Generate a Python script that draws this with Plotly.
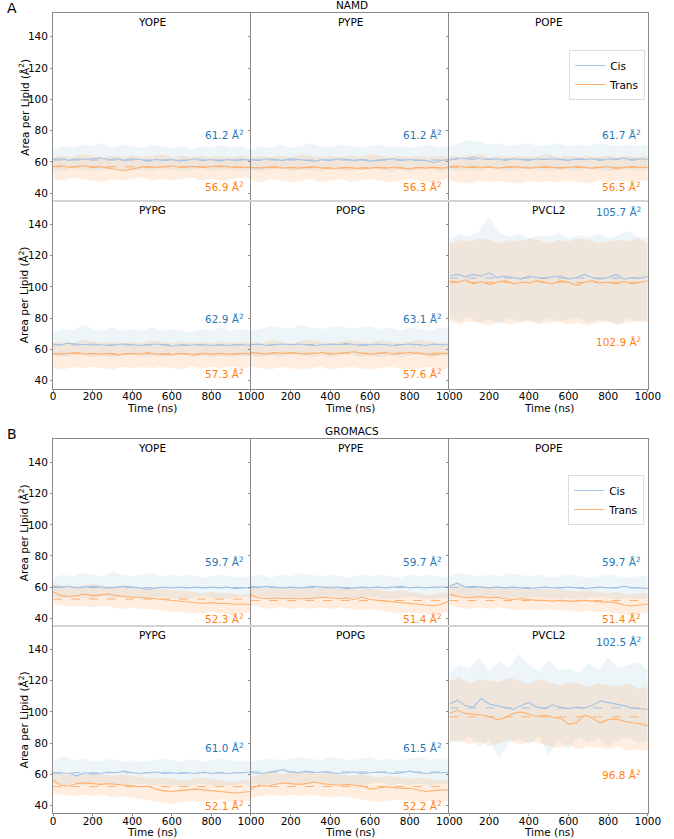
import plotly.graph_objects as go

# ---------------- data ----------------
T_SMOOTH = [0, 40, 80, 120, 160, 200, 240, 280, 320, 360, 400, 440, 480, 520, 560, 600,
            640, 680, 720, 760, 800, 840, 880, 920, 960, 1000]
T_RAW = [0, 50, 100, 150, 200, 250, 300, 350, 400, 450, 500, 550, 600, 650, 700, 750,
         800, 850, 900, 950, 1000]

LIPIDS = ["YOPE", "PYPE", "POPE", "PYPG", "POPG", "PVCL2"]
NAMD_CIS_MEAN = [61.2, 61.2, 61.7, 62.9, 63.1, 105.7]
NAMD_TRANS_MEAN = [56.9, 56.3, 56.5, 57.3, 57.6, 102.9]
GMX_CIS_MEAN = [59.7, 59.7, 59.7, 61.0, 61.5, 102.5]
GMX_TRANS_MEAN = [52.3, 51.4, 51.4, 52.1, 52.2, 96.8]

# ---- NAMD ----
NAMD_YOPE_CIS = [61.5, 62, 61, 62, 61.5, 62, 62.5, 61.5, 62, 61, 62, 61.5, 60.5, 61.5, 61, 61.5, 60.5, 61, 62, 61, 61.5, 60.5, 61.5, 61, 61.5, 61]
NAMD_YOPE_CIS_HI = [68, 70, 69, 71, 70, 72, 69, 71, 70, 69, 71, 70, 69, 70, 68, 70, 69, 71, 69, 70, 68]
NAMD_YOPE_CIS_LO = [55, 54, 56, 55, 54, 55, 56, 54, 55, 55, 54, 56, 55, 54, 55, 56, 54, 55, 55, 54, 55]
NAMD_YOPE_TRANS = [57, 57.5, 56.5, 57, 57.5, 56.5, 57, 56, 55, 54.5, 55.5, 56.5, 57, 56.5, 57, 57.5, 56.5, 57, 57, 56.5, 57, 57.5, 57, 56.5, 56.5, 56.5]
NAMD_YOPE_TRANS_HI = [63, 64, 63, 65, 64, 63, 64, 63, 64, 63, 64, 65, 63, 64, 63, 64, 63, 64, 63, 64, 63]
NAMD_YOPE_TRANS_LO = [49, 48, 50, 49, 48, 47, 49, 48, 49, 50, 48, 49, 48, 49, 50, 48, 49, 48, 49, 50, 49]

NAMD_PYPE_CIS = [61.5, 61, 62, 61.5, 61, 62, 61.5, 61, 60.5, 61.5, 61, 62, 61.5, 61, 61.5, 60.5, 61, 61.5, 62, 61, 61.5, 61, 61, 59.5, 61, 61.5]
NAMD_PYPE_CIS_HI = [68, 70, 69, 71, 69, 70, 72, 70, 69, 71, 70, 69, 70, 71, 69, 70, 69, 70, 71, 69, 70]
NAMD_PYPE_CIS_LO = [55, 54, 55, 56, 54, 55, 55, 54, 56, 55, 54, 55, 56, 55, 54, 55, 54, 55, 56, 54, 55]
NAMD_PYPE_TRANS = [56.5, 56, 56.5, 57, 56, 56.5, 56, 56.5, 57, 56, 55.5, 56, 56.5, 56, 55.5, 56, 56.5, 56, 56.5, 56, 55.5, 56.5, 56, 56.5, 56, 56.5]
NAMD_PYPE_TRANS_HI = [63, 64, 63, 64, 63, 65, 64, 63, 64, 63, 64, 63, 65, 64, 63, 64, 63, 64, 63, 64, 63]
NAMD_PYPE_TRANS_LO = [48, 47, 49, 48, 47, 48, 49, 47, 48, 49, 47, 48, 49, 48, 47, 48, 49, 48, 47, 48, 49]

NAMD_POPE_CIS = [61, 62.5, 62, 63, 62, 61.5, 62, 61, 62, 61.5, 61, 62, 61.5, 62, 61.5, 61, 62, 61.5, 62, 61, 62, 61.5, 62.5, 61, 62, 61.5]
NAMD_POPE_CIS_HI = [70, 72, 74, 73, 71, 72, 70, 71, 72, 70, 71, 72, 70, 71, 70, 72, 71, 70, 71, 70, 71]
NAMD_POPE_CIS_LO = [55, 54, 55, 54, 56, 55, 54, 55, 56, 55, 54, 55, 55, 54, 56, 55, 54, 55, 55, 54, 55]
NAMD_POPE_TRANS = [57, 57.5, 56.5, 57, 56.5, 57, 56, 56.5, 57, 56.5, 56, 56.5, 57, 56.5, 56, 56.5, 57, 56.5, 56, 56.5, 57, 55.5, 56.5, 57, 56.5, 56.5]
NAMD_POPE_TRANS_HI = [64, 63, 64, 65, 63, 64, 63, 64, 63, 64, 65, 63, 64, 63, 64, 63, 64, 63, 64, 63, 64]
NAMD_POPE_TRANS_LO = [48, 47, 46, 48, 47, 48, 47, 46, 48, 47, 48, 47, 48, 47, 46, 48, 47, 48, 47, 48, 48]

NAMD_PYPG_CIS = [63.5, 63, 64, 63.5, 63, 63.5, 63, 62.5, 63, 63.5, 63, 62.5, 63, 63.5, 63, 62, 63, 62.5, 63, 63, 62.5, 63, 62.5, 63, 63, 62.5]
NAMD_PYPG_CIS_HI = [71, 73, 72, 76, 73, 72, 74, 72, 73, 72, 74, 72, 73, 72, 71, 73, 72, 74, 72, 73, 72]
NAMD_PYPG_CIS_LO = [56, 55, 56, 57, 55, 56, 55, 56, 57, 55, 56, 55, 56, 57, 55, 56, 55, 56, 55, 56, 56]
NAMD_PYPG_TRANS = [57.5, 57, 57.5, 58, 57, 57.5, 57, 57.5, 56.5, 57, 57.5, 57, 58, 57, 57, 56.5, 57.5, 57, 56.5, 57.5, 57, 57.5, 57, 57, 57.5, 57]
NAMD_PYPG_TRANS_HI = [64, 65, 64, 66, 65, 64, 65, 64, 65, 64, 66, 65, 64, 65, 64, 65, 64, 65, 64, 65, 64]
NAMD_PYPG_TRANS_LO = [48, 47, 49, 48, 49, 48, 47, 49, 48, 49, 48, 49, 48, 47, 49, 48, 49, 48, 49, 48, 49]

NAMD_POPG_CIS = [63, 63.5, 62.5, 63, 63.5, 63, 63.5, 63, 62.5, 63, 63.5, 63, 64, 63, 62.5, 63, 63.5, 63, 62.5, 63, 63.5, 63, 62.5, 63.5, 63, 63]
NAMD_POPG_CIS_HI = [72, 73, 75, 74, 73, 76, 74, 73, 74, 75, 73, 74, 75, 73, 74, 72, 74, 73, 72, 74, 73]
NAMD_POPG_CIS_LO = [56, 55, 56, 55, 57, 56, 55, 56, 55, 56, 57, 55, 56, 55, 56, 55, 56, 57, 55, 56, 56]
NAMD_POPG_TRANS = [58, 57.5, 57, 58, 57.5, 58, 57.5, 57, 57.5, 58, 57, 57.5, 58, 58.5, 57.5, 57, 57.5, 58, 57, 57.5, 58, 57.5, 57, 56.5, 57.5, 57.5]
NAMD_POPG_TRANS_HI = [65, 64, 66, 65, 64, 65, 66, 65, 64, 65, 66, 65, 64, 66, 65, 64, 65, 66, 65, 64, 65]
NAMD_POPG_TRANS_LO = [49, 48, 47, 49, 48, 47, 48, 49, 47, 48, 49, 48, 47, 48, 49, 48, 47, 48, 49, 47, 48]

NAMD_PVCL2_CIS = [107, 108, 106.5, 108, 107, 109, 106, 107, 106, 105, 107, 106, 105.5, 106.5, 107, 105, 106, 108, 106, 105, 106, 108, 105, 106, 105.5, 107]
NAMD_PVCL2_CIS_HI = [130, 134, 132, 136, 145, 135, 132, 134, 131, 133, 132, 135, 131, 133, 132, 134, 131, 133, 136, 132, 131]
NAMD_PVCL2_CIS_LO = [80, 78, 81, 77, 79, 76, 80, 78, 79, 77, 80, 78, 79, 80, 77, 79, 78, 76, 80, 78, 79]
NAMD_PVCL2_TRANS = [104, 103, 104.5, 102, 103.5, 101.5, 103, 104, 102, 103, 102.5, 104, 103, 102, 104, 103, 101, 103, 104, 102.5, 103, 102, 103.5, 102, 103, 104]
NAMD_PVCL2_TRANS_HI = [128, 130, 129, 131, 130, 128, 130, 129, 131, 130, 128, 130, 129, 131, 130, 128, 129, 130, 129, 131, 128]
NAMD_PVCL2_TRANS_LO = [78, 76, 78, 77, 75, 78, 76, 77, 78, 76, 77, 78, 76, 77, 75, 77, 78, 76, 77, 78, 77]

# ---- GROMACS ----
GMX_YOPE_CIS = [60.5, 60, 60.5, 59.5, 60, 60.5, 60, 59.5, 60, 60.5, 60, 59.5, 58.5, 59.5, 60, 59.5, 60, 59.5, 60, 59.5, 60, 59.5, 60, 59, 59.5, 59.5]
GMX_YOPE_CIS_HI = [66, 68, 67, 69, 68, 67, 70, 68, 67, 68, 69, 67, 68, 67, 68, 66, 67, 68, 67, 66, 67]
GMX_YOPE_CIS_LO = [54, 53, 54, 53, 52, 54, 53, 54, 53, 52, 53, 54, 53, 52, 53, 54, 53, 52, 53, 54, 53]
GMX_YOPE_TRANS = [57, 54.5, 54, 54.5, 55.5, 54.5, 55, 55.5, 54.5, 54, 53.5, 53.5, 53, 52.5, 52, 51.5, 51, 50.5, 50, 49.5, 50, 49.5, 49.5, 49, 49, 49]
GMX_YOPE_TRANS_HI = [62, 61, 60, 61, 62, 61, 60, 61, 60, 59, 60, 59, 58, 58, 57, 56, 57, 56, 56, 55, 56]
GMX_YOPE_TRANS_LO = [49, 48, 47, 48, 47, 48, 47, 46, 47, 46, 46, 45, 44, 44, 43, 43, 44, 43, 42, 43, 43]

GMX_PYPE_CIS = [60.5, 60, 60.5, 60, 59.5, 60, 59.5, 60, 60.5, 60, 59.5, 60, 59, 59.5, 60, 59.5, 60, 59.5, 60, 60.5, 59.5, 60, 59.5, 60, 60, 60]
GMX_PYPE_CIS_HI = [67, 68, 66, 68, 67, 69, 68, 67, 68, 67, 66, 68, 67, 68, 67, 66, 68, 67, 68, 67, 66]
GMX_PYPE_CIS_LO = [53, 54, 53, 52, 54, 53, 52, 53, 54, 53, 52, 53, 54, 53, 52, 53, 54, 53, 52, 53, 53]
GMX_PYPE_TRANS = [55, 53, 52.5, 53, 52.5, 53, 52.5, 52.5, 53, 53.5, 53, 52.5, 53, 52, 53.5, 52, 51.5, 51, 50.5, 50, 49.5, 49, 48.5, 48, 49, 51]
GMX_PYPE_TRANS_HI = [61, 60, 59, 60, 59, 60, 59, 60, 61, 60, 59, 60, 59, 58, 57, 58, 57, 56, 55, 56, 57]
GMX_PYPE_TRANS_LO = [48, 47, 46, 47, 46, 47, 46, 47, 46, 47, 46, 45, 46, 45, 44, 43, 44, 43, 42, 43, 44]

GMX_POPE_CIS = [60.5, 62.5, 60, 60.5, 60, 59.5, 60, 59.5, 60, 59.5, 59, 59.5, 60, 59.5, 59.5, 60, 59.5, 59, 59.5, 60, 59.5, 59.5, 60.5, 59.5, 59.5, 59]
GMX_POPE_CIS_HI = [67, 69, 68, 67, 68, 67, 69, 68, 67, 68, 66, 67, 68, 67, 66, 67, 68, 67, 66, 67, 67]
GMX_POPE_CIS_LO = [53, 54, 53, 52, 53, 54, 53, 52, 53, 54, 53, 52, 53, 52, 53, 54, 53, 52, 53, 52, 53]
GMX_POPE_TRANS = [55.5, 54, 53, 53.5, 54, 53, 53.5, 52.5, 52, 52.5, 52, 51.5, 51.5, 51, 51.5, 51, 51, 51.5, 51, 50.5, 50.5, 50, 48.5, 48, 48.5, 49]
GMX_POPE_TRANS_HI = [62, 61, 60, 61, 60, 59, 60, 59, 58, 59, 58, 59, 58, 57, 58, 57, 56, 57, 55, 56, 56]
GMX_POPE_TRANS_LO = [48, 47, 46, 47, 46, 47, 46, 45, 46, 45, 46, 45, 45, 44, 45, 44, 44, 43, 42, 43, 43]

GMX_PYPG_CIS = [60.5, 61, 60.5, 59, 61, 60, 60.5, 61.5, 61, 62, 61, 60.5, 61, 61.5, 60.5, 61, 60.5, 61, 60.5, 61.5, 60.5, 61, 60.5, 61, 61, 61.5]
GMX_PYPG_CIS_HI = [68, 72, 69, 70, 68, 69, 70, 68, 69, 68, 69, 70, 69, 68, 70, 68, 69, 70, 69, 68, 69]
GMX_PYPG_CIS_LO = [54, 53, 54, 53, 54, 55, 53, 54, 53, 54, 53, 54, 53, 52, 53, 54, 53, 52, 53, 54, 53]
GMX_PYPG_TRANS = [56, 53, 52.5, 54, 54.5, 54, 53.5, 54, 53.5, 53, 52.5, 52, 52.5, 50.5, 49.5, 49, 49.5, 50, 50.5, 50, 49.5, 49, 48.5, 48, 48.5, 49]
GMX_PYPG_TRANS_HI = [62, 60, 59, 60, 61, 60, 59, 60, 59, 58, 57, 58, 57, 56, 57, 58, 57, 56, 55, 56, 56]
GMX_PYPG_TRANS_LO = [48, 47, 46, 47, 46, 47, 45, 46, 45, 44, 43, 42, 41, 42, 43, 42, 43, 44, 42, 43, 43]

GMX_POPG_CIS = [61, 60.5, 61, 62, 63, 61.5, 61, 62, 61, 61.5, 61, 60.5, 61, 61.5, 60.5, 61, 61.5, 61, 60.5, 61, 62, 61, 60.5, 61, 61, 61]
GMX_POPG_CIS_HI = [68, 69, 70, 69, 70, 71, 70, 69, 71, 70, 69, 70, 71, 69, 70, 69, 70, 71, 69, 70, 69]
GMX_POPG_CIS_LO = [54, 53, 54, 55, 54, 53, 54, 55, 54, 53, 54, 53, 54, 55, 53, 54, 53, 54, 53, 54, 54]
GMX_POPG_TRANS = [50.5, 53, 52.5, 53.5, 54.5, 54, 53.5, 54, 55, 54, 53.5, 53, 53.5, 53, 52.5, 50.5, 51, 52, 51.5, 51, 51, 50, 49, 49.5, 50, 50]
GMX_POPG_TRANS_HI = [58, 60, 61, 60, 61, 62, 61, 60, 61, 60, 59, 60, 59, 58, 59, 58, 57, 58, 57, 56, 57]
GMX_POPG_TRANS_LO = [45, 46, 47, 46, 47, 46, 47, 46, 45, 46, 45, 44, 43, 42, 43, 44, 43, 42, 43, 42, 43]

GMX_PVCL2_CIS = [105, 107.5, 104, 103, 108.5, 105, 104, 102.5, 101.5, 104, 106, 103, 102, 104.5, 103, 102, 103, 102.5, 104, 107, 106, 105, 104, 102.5, 102, 101.5]
GMX_PVCL2_CIS_HI = [125, 130, 128, 135, 126, 132, 128, 137, 130, 126, 133, 127, 128, 125, 131, 127, 135, 128, 130, 132, 127]
GMX_PVCL2_CIS_LO = [82, 80, 84, 78, 82, 70, 80, 83, 79, 85, 72, 82, 76, 84, 80, 83, 78, 82, 84, 80, 82]
GMX_PVCL2_TRANS = [99, 101, 99, 98.5, 98, 97, 95, 96, 99, 100, 98.5, 97, 98, 96.5, 96, 92, 93, 98, 96, 93, 95, 95.5, 94, 93, 92.5, 91]
GMX_PVCL2_TRANS_HI = [120, 122, 118, 121, 120, 119, 122, 120, 118, 121, 119, 117, 119, 118, 116, 118, 117, 116, 118, 115, 116]
GMX_PVCL2_TRANS_LO = [80, 82, 79, 81, 78, 80, 82, 79, 81, 80, 78, 77, 79, 76, 78, 77, 76, 78, 75, 76, 75]

SERIES = {
    "NAMD": [
        (NAMD_YOPE_CIS, NAMD_YOPE_CIS_LO, NAMD_YOPE_CIS_HI, NAMD_YOPE_TRANS, NAMD_YOPE_TRANS_LO, NAMD_YOPE_TRANS_HI),
        (NAMD_PYPE_CIS, NAMD_PYPE_CIS_LO, NAMD_PYPE_CIS_HI, NAMD_PYPE_TRANS, NAMD_PYPE_TRANS_LO, NAMD_PYPE_TRANS_HI),
        (NAMD_POPE_CIS, NAMD_POPE_CIS_LO, NAMD_POPE_CIS_HI, NAMD_POPE_TRANS, NAMD_POPE_TRANS_LO, NAMD_POPE_TRANS_HI),
        (NAMD_PYPG_CIS, NAMD_PYPG_CIS_LO, NAMD_PYPG_CIS_HI, NAMD_PYPG_TRANS, NAMD_PYPG_TRANS_LO, NAMD_PYPG_TRANS_HI),
        (NAMD_POPG_CIS, NAMD_POPG_CIS_LO, NAMD_POPG_CIS_HI, NAMD_POPG_TRANS, NAMD_POPG_TRANS_LO, NAMD_POPG_TRANS_HI),
        (NAMD_PVCL2_CIS, NAMD_PVCL2_CIS_LO, NAMD_PVCL2_CIS_HI, NAMD_PVCL2_TRANS, NAMD_PVCL2_TRANS_LO, NAMD_PVCL2_TRANS_HI),
    ],
    "GROMACS": [
        (GMX_YOPE_CIS, GMX_YOPE_CIS_LO, GMX_YOPE_CIS_HI, GMX_YOPE_TRANS, GMX_YOPE_TRANS_LO, GMX_YOPE_TRANS_HI),
        (GMX_PYPE_CIS, GMX_PYPE_CIS_LO, GMX_PYPE_CIS_HI, GMX_PYPE_TRANS, GMX_PYPE_TRANS_LO, GMX_PYPE_TRANS_HI),
        (GMX_POPE_CIS, GMX_POPE_CIS_LO, GMX_POPE_CIS_HI, GMX_POPE_TRANS, GMX_POPE_TRANS_LO, GMX_POPE_TRANS_HI),
        (GMX_PYPG_CIS, GMX_PYPG_CIS_LO, GMX_PYPG_CIS_HI, GMX_PYPG_TRANS, GMX_PYPG_TRANS_LO, GMX_PYPG_TRANS_HI),
        (GMX_POPG_CIS, GMX_POPG_CIS_LO, GMX_POPG_CIS_HI, GMX_POPG_TRANS, GMX_POPG_TRANS_LO, GMX_POPG_TRANS_HI),
        (GMX_PVCL2_CIS, GMX_PVCL2_CIS_LO, GMX_PVCL2_CIS_HI, GMX_PVCL2_TRANS, GMX_PVCL2_TRANS_LO, GMX_PVCL2_TRANS_HI),
    ],
}
MEANS = {"NAMD": (NAMD_CIS_MEAN, NAMD_TRANS_MEAN), "GROMACS": (GMX_CIS_MEAN, GMX_TRANS_MEAN)}

# ---------------- layout / style ----------------
W, H = 674, 839
FONT = "DejaVu Sans"
FS = 10.5
BLUE = "#1f77b4"
ORANGE = "#ff7f0e"
CIS_FILL = "rgba(31,119,180,0.075)"
TRANS_FILL = "rgba(255,127,14,0.13)"
CIS_LINE = "#a4c2e4"
TRANS_LINE = "#fdb273"
FRAME = "#8a8a8a"

COLS_PX = [(51.3, 254.0), (254.0, 457.3), (457.3, 660.5)]
SECTIONS = [("A", "NAMD", [(13.3, 201.0), (201.0, 388.5)]),
            ("B", "GROMACS", [(439.3, 626.0), (626.0, 813.3)])]
# label anchor heights (in data units) for the cis / trans value annotations
LABEL_POS = {
    "NAMD": ([77.2, 77.2, 77.2, 79.5, 79.5, 148.5], [44.5, 44.5, 44.5, 44.9, 44.9, 65.4]),
    "GROMACS": ([76.6, 76.6, 76.6, 77.3, 77.3, 144.9], [39.7, 39.7, 39.7, 40.0, 40.0, 59.6]),
}

def px_x(x):
    return x / W

def px_y(y):
    return 1 - y / H

fig = go.Figure()
layout = dict(
    width=W, height=H, margin=dict(l=0, r=0, t=0, b=0),
    paper_bgcolor="white", plot_bgcolor="white",
    font=dict(family=FONT, size=FS, color="black"),
    annotations=[], shapes=[],
)

k = 0
for s_idx, (letter, engine, rows_px) in enumerate(SECTIONS):
    cis_mean, trans_mean = MEANS[engine]
    lab_cis, lab_trans = LABEL_POS[engine]
    for r, (y0, y1) in enumerate(rows_px):
        for c, (x0, x1) in enumerate(COLS_PX):
            k += 1
            i = r * 3 + c
            xa = "x" if k == 1 else f"x{k}"
            ya = "y" if k == 1 else f"y{k}"
            xkey = "xaxis" if k == 1 else f"xaxis{k}"
            ykey = "yaxis" if k == 1 else f"yaxis{k}"
            bottom = r == 1
            layout[xkey] = dict(
                domain=[px_x(x0), px_x(x1)], anchor=ya, range=[0, 1000],
                showgrid=False, zeroline=False, showline=True, mirror=(r == 0),
                linecolor=FRAME, linewidth=1,
                tickvals=([0, 200, 400, 600, 800, 1000] if c == 0 else [200, 400, 600, 800, 1000]),
                ticks="outside" if bottom else "", ticklen=2, tickcolor=FRAME,
                ticklabelstandoff=-4,
                showticklabels=bottom, tickfont=dict(size=FS, color="black"),
            )
            layout[ykey] = dict(
                domain=[px_y(y1), px_y(y0)], anchor=xa, range=[35, 155],
                showgrid=False, zeroline=False, showline=True, mirror=(c == 2),
                linecolor=FRAME, linewidth=1,
                tickvals=[40, 60, 80, 100, 120, 140], ticks="outside", ticklen=2,
                tickcolor=FRAME, showticklabels=(c == 0),
                tickfont=dict(size=FS, color="black"),
            )
            cis, cis_lo, cis_hi, tr, tr_lo, tr_hi = SERIES[engine][i]
            common = dict(xaxis=xa, yaxis=ya, hoverinfo="skip")
            # raw-trace envelopes
            fig.add_trace(go.Scatter(x=T_RAW, y=cis_lo, mode="lines", line=dict(width=0),
                                     showlegend=False, **common))
            fig.add_trace(go.Scatter(x=T_RAW, y=cis_hi, mode="lines", line=dict(width=0),
                                     fill="tonexty", fillcolor=CIS_FILL, showlegend=False, **common))
            fig.add_trace(go.Scatter(x=T_RAW, y=tr_lo, mode="lines", line=dict(width=0),
                                     showlegend=False, **common))
            fig.add_trace(go.Scatter(x=T_RAW, y=tr_hi, mode="lines", line=dict(width=0),
                                     fill="tonexty", fillcolor=TRANS_FILL, showlegend=False, **common))
            # mean lines
            fig.add_trace(go.Scatter(x=[0, 1000], y=[cis_mean[i], cis_mean[i]], mode="lines",
                                     line=dict(color=CIS_LINE, width=1, dash="dash"),
                                     showlegend=False, **common))
            fig.add_trace(go.Scatter(x=[0, 1000], y=[trans_mean[i], trans_mean[i]], mode="lines",
                                     line=dict(color=TRANS_LINE, width=1, dash="dash"),
                                     showlegend=False, **common))
            # smoothed lines
            leg = "legend" if s_idx == 0 else "legend2"
            show = (r == 0 and c == 2)
            fig.add_trace(go.Scatter(x=T_SMOOTH, y=cis, mode="lines", name="Cis",
                                     line=dict(color=CIS_LINE, width=1.1),
                                     showlegend=show, legend=leg, **common))
            fig.add_trace(go.Scatter(x=T_SMOOTH, y=tr, mode="lines", name="Trans",
                                     line=dict(color=TRANS_LINE, width=1.1),
                                     showlegend=show, legend=leg, **common))
            # panel title
            layout["annotations"].append(dict(
                text=LIPIDS[i], xref=f"{xa} domain", yref=f"{ya} domain", x=0.5, y=1,
                yshift=-1, xanchor="center", yanchor="top", showarrow=False,
                font=dict(size=FS, color="black")))
            # value labels
            layout["annotations"].append(dict(
                text=f"{cis_mean[i]:.1f} Å<sup>2</sup>", xref=f"{xa} domain", yref=ya,
                x=1, xshift=-5, y=lab_cis[i], xanchor="right", yanchor="middle",
                showarrow=False, font=dict(size=FS, color=BLUE)))
            layout["annotations"].append(dict(
                text=f"{trans_mean[i]:.1f} Å<sup>2</sup>", xref=f"{xa} domain", yref=ya,
                x=1, xshift=-5, y=lab_trans[i], xanchor="right", yanchor="middle",
                showarrow=False, font=dict(size=FS, color=ORANGE)))
            if bottom:
                layout["annotations"].append(dict(
                    text="Time (ns)", xref="paper", yref="paper", x=px_x((x0 + x1) / 2),
                    y=px_y(y1 + 19), xanchor="center", yanchor="middle", showarrow=False,
                    font=dict(size=FS, color="black")))
            if c == 0:
                layout["annotations"].append(dict(
                    text="Area per Lipid (Å<sup>2</sup>)", xref="paper", yref="paper",
                    x=px_x(21), y=px_y((y0 + y1) / 2), textangle=-90, xanchor="center",
                    yanchor="middle", showarrow=False, font=dict(size=FS, color="black")))
    # light separator between rows
    sep_y = rows_px[0][1]
    layout["shapes"].append(dict(type="line", xref="paper", yref="paper",
                                 x0=px_x(COLS_PX[0][0]), x1=px_x(COLS_PX[2][1]),
                                 y0=px_y(sep_y), y1=px_y(sep_y),
                                 line=dict(color="#d4d4d4", width=2), layer="above"))
    top = rows_px[0][0]
    layout["annotations"].append(dict(
        text=engine, xref="paper", yref="paper", x=px_x(357), y=px_y(top - 8),
        xanchor="center", yanchor="middle", showarrow=False, font=dict(size=FS, color="black")))
    layout["annotations"].append(dict(
        text=letter, xref="paper", yref="paper", x=px_x(2), y=px_y(top - 5.5),
        xanchor="left", yanchor="middle", showarrow=False, font=dict(size=14, color="black")))

legend_style = dict(xanchor="left", yanchor="top", bgcolor="white", traceorder="normal",
                    bordercolor="#dddddd", borderwidth=1, font=dict(size=FS, color="black"),
                    itemwidth=30, tracegroupgap=0)
layout["legend"] = dict(x=px_x(580), y=px_y(50), **legend_style)
layout["legend2"] = dict(x=px_x(579), y=px_y(475), **legend_style)
layout["showlegend"] = True

fig.update_layout(**layout)
fig.write_html("out.html")
